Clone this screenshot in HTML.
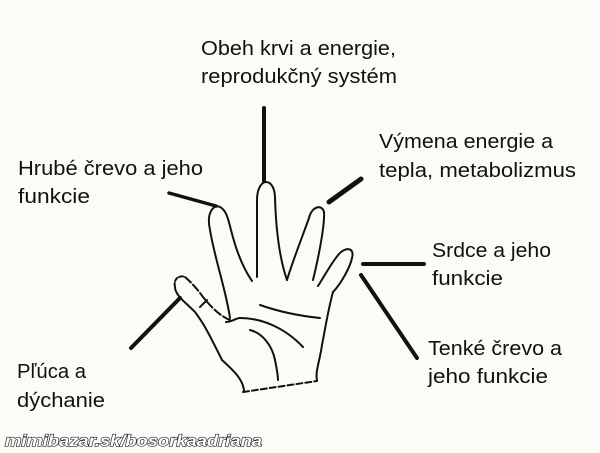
<!DOCTYPE html>
<html><head><meta charset="utf-8"><style>
html,body{margin:0;padding:0;background:#fbfbf8;}
svg{display:block;}
text{font-family:"Liberation Sans",sans-serif;}
</style></head><body>
<svg width="600" height="453" viewBox="0 0 600 453" xmlns="http://www.w3.org/2000/svg">
<rect width="600" height="453" fill="#fbfbf8"/>
<g font-size="20" fill="#111">
<text x="201" y="55" textLength="195" lengthAdjust="spacingAndGlyphs">Obeh krvi a energie,</text>
<text x="201" y="83" textLength="196" lengthAdjust="spacingAndGlyphs">reprodukčný systém</text>
<text x="18" y="175" textLength="185" lengthAdjust="spacingAndGlyphs">Hrubé črevo a jeho</text>
<text x="18" y="203" textLength="72" lengthAdjust="spacingAndGlyphs">funkcie</text>
<text x="379" y="148" textLength="174" lengthAdjust="spacingAndGlyphs">Výmena energie a</text>
<text x="379" y="177" textLength="197" lengthAdjust="spacingAndGlyphs">tepla, metabolizmus</text>
<text x="432" y="257" textLength="119" lengthAdjust="spacingAndGlyphs">Srdce a jeho</text>
<text x="432" y="285" textLength="71" lengthAdjust="spacingAndGlyphs">funkcie</text>
<text x="428" y="355" textLength="134" lengthAdjust="spacingAndGlyphs">Tenké črevo a</text>
<text x="428" y="383" textLength="120" lengthAdjust="spacingAndGlyphs">jeho funkcie</text>
<text x="17" y="378" textLength="69" lengthAdjust="spacingAndGlyphs">Pľúca a</text>
<text x="17" y="407" textLength="88" lengthAdjust="spacingAndGlyphs">dýchanie</text>
</g>
<g stroke="#111" stroke-linecap="round" fill="none">
<line x1="264" y1="108" x2="264" y2="181" stroke-width="4"/>
<line x1="169" y1="193" x2="216" y2="206" stroke-width="3.5"/>
<line x1="361" y1="179" x2="329" y2="202" stroke-width="5"/>
<line x1="363" y1="264" x2="424" y2="264" stroke-width="4"/>
<line x1="361" y1="275" x2="417" y2="358" stroke-width="4"/>
<line x1="131" y1="348" x2="180" y2="298" stroke-width="4"/>
</g>
<g stroke="#111" stroke-width="2" fill="none" stroke-linecap="round">
<path d="M230,318 C226,290 215,260 210,230 C206,212 214,204 220,207 C226,210 228,218 231,230 C236,250 243,268 252,281"/>
<path d="M257,277 L257,200 C257,188 262,182 266,182 C272,182 275,190 275,198 C276,230 280,260 287,280"/>
<path d="M287,280 C293,260 303,235 309,218 C312,206 322,204 324,212 C325,225 318,260 313,280"/>
<path d="M318,286 C325,275 332,262 339,254 C345,247 355,247 352,258 C350,268 340,285 333,292"/>
<path d="M333,292 C328,310 325,330 322,345 C320,360 315,372 317,380"/>
<path d="M243,392 L317,381" stroke-dasharray="6,3"/>
<path d="M244,392 C244,380 233,370 222,360 C212,340 205,325 195,312 C185,302 175,295 175,287"/>
<path d="M175,287 C173,278 180,275 185,277" stroke-dasharray="4,2"/>
<path d="M185,277 C192,283 198,290 203,297 C212,308 220,316 230,320" stroke-dasharray="8,3"/>
<path d="M200,307 L207,300"/>
<path d="M260,305 C280,312 300,316 320,318"/>
<path d="M240,318 C262,318 285,328 303,347"/>
<path d="M250,330 C262,333 272,345 275,360 C277,370 278,375 278,380"/>
<path d="M226,322 C232,322 236,318 240,318"/>
</g>
<text x="5" y="446" font-size="16" font-weight="bold" font-style="italic" fill="#fff" stroke="#222" stroke-width="1.2" paint-order="stroke" textLength="257" lengthAdjust="spacingAndGlyphs">mimibazar.sk/bosorkaadriana</text>
</svg>
</body></html>
